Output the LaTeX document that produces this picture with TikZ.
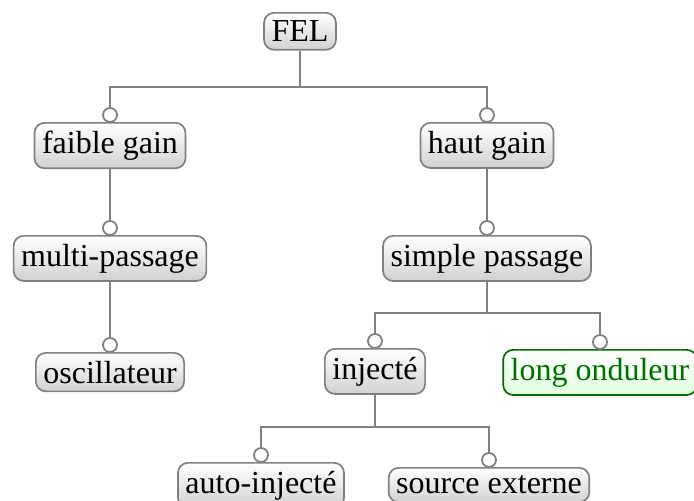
\documentclass[tikz,border=0pt]{standalone}
\usepackage{fontspec}
\setmainfont{Liberation Serif}
\usetikzlibrary{calc}
\definecolor{lc}{gray}{0.5}
\definecolor{dg}{RGB}{0,110,0}
\tikzset{
  box/.style={draw=lc, line width=1.7pt, rounded corners=10pt, top color=white, bottom color=black!18,
    inner xsep=7.5pt, inner ysep=8pt, font=\fontsize{32}{38}\selectfont, anchor=north},
  greenbox/.style={box, draw=dg, text=dg, top color=white, bottom color=green!12},
  conn/.style={draw=lc, line width=2.5pt},
  knob/.style={circle, draw=lc, line width=1.8pt, fill=white, minimum size=14pt, inner sep=0pt},
}
\begin{document}
\begin{tikzpicture}[x=1pt,y=-1pt]
\useasboundingbox (0,0) rectangle (694,501);
% nodes
\node[box] (fel) at (300,12) {FEL};
\node[box] (fg) at (110,122) {faible gain};
\node[box] (hg) at (487,122) {haut gain};
\node[box] (mp) at (110,235) {multi-passage};
\node[box] (sp) at (487,235) {simple passage};
\node[box] (osc) at (110,352) {oscillateur};
\node[box] (inj) at (375,348) {injecté};
\node[greenbox] (lo) at (600,349) {long onduleur};
\node[box] (ai) at (261,462) {auto-injecté};
\node[box] (se) at (489,467) {source externe};
% knobs
\foreach \n in {fg,hg,mp,sp,osc,inj,lo,ai,se}
  \node[knob] (k\n) at ($(\n.north)+(0,-7)$) {};
% bars
\coordinate (b1) at ($(fel.south |- kfg.north)+(0,-20)$);
\coordinate (b2) at ($(sp.south |- kinj.north)+(0,-20)$);
\coordinate (b3) at ($(inj.south |- kai.north)+(0,-20)$);
% connectors
\draw[conn] (fel.south) -- (b1);
\draw[conn] (kfg.north) |- (b1) -| (khg.north);
\draw[conn] (fg.south) -- (kmp.north);
\draw[conn] (mp.south) -- (kosc.north);
\draw[conn] (hg.south) -- (ksp.north);
\draw[conn] (sp.south) -- (b2);
\draw[conn] (kinj.north) |- (b2) -| (klo.north);
\draw[conn] (inj.south) -- (b3);
\draw[conn] (kai.north) |- (b3) -| (kse.north);
\end{tikzpicture}
\end{document}
